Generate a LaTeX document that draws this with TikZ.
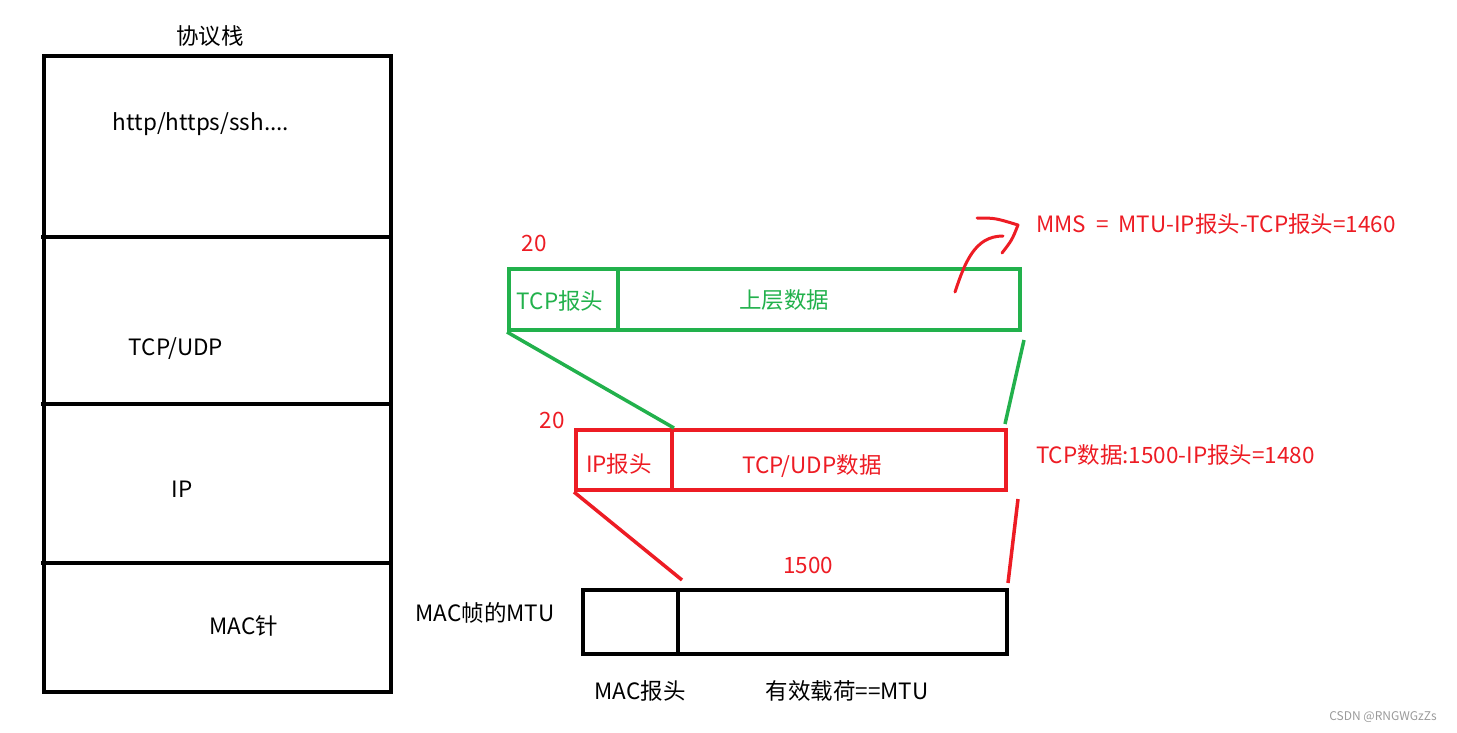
\documentclass[tikz,border=0pt]{standalone}
\usepackage{fontspec}
\setmainfont{Noto Sans CJK SC}
\usetikzlibrary{positioning}
\definecolor{pGreen}{HTML}{22B14C}
\definecolor{pRed}{HTML}{ED1C24}
\definecolor{pGray}{HTML}{9A9A9A}

\begin{document}
\begin{tikzpicture}[x=1pt, y=-1pt, line width=4pt,
    every node/.style={font=\fontsize{22.5}{26}\selectfont, inner sep=0pt},
    cell/.style={draw, minimum height=61pt, anchor=north west},
    link/.style={line width=3.5pt}]
  \useasboundingbox (0,0) rectangle (1457,732);
  % protocol stack on the left
  \node (stack) at (210,36) {协议栈};
  \draw[line width=4.5pt] (44,56) rectangle (391,692);
  \foreach \y in {237,404,563} \draw[line width=4.5pt] (41,\y) -- (393,\y);
  \node (app) at (201,124) {http/https/ssh....};
  \node (tl) at (176,349) {TCP/UDP};
  \node (nl) at (182,489) {IP};
  \node (ll) at (244,626) {MAC针};
  % TCP segment
  \node[cell, pGreen, minimum width=109pt] (tcphdr) at (507,267) {};
  \node[cell, pGreen, minimum width=402pt] (tcpdata) at (616,267) {};
  \node[pGreen] (tcphdrtxt) at (560,301) {TCP报头};
  \node[pGreen] (tcpdatatxt) at (784,300) {上层数据};
  \node[pRed] (tcplen) at (534,243) {20};
  % IP packet
  \node[cell, pRed, minimum width=96pt, minimum height=60pt] (iphdr) at (574,428) {};
  \node[cell, pRed, minimum width=334pt, minimum height=60pt] (ipdata) at (670,428) {};
  \node[pRed] (iphdrtxt) at (619,464) {IP报头};
  \node[pRed] (ipdatatxt) at (812,466) {TCP/UDP数据};
  \node[pRed] (iplen) at (552,420) {20};
  % MAC frame
  \node[cell, minimum width=95pt, minimum height=64pt] (machdr) at (581,588) {};
  \node[cell, minimum width=329pt, minimum height=64pt] (macdata) at (676,588) {};
  \node[pRed] (maclen) at (808,565) {1500};
  \node (mactxt) at (485,613) {MAC帧的MTU};
  \node (machdrtxt) at (640,691) {MAC报头};
  \node (macdatatxt) at (847,691) {有效载荷==MTU};
  % connectors
  \draw[link, pGreen] (tcphdr.south west) -- (iphdr.north east);
  \draw[link, pGreen] ([shift={(2,8)}]tcpdata.south east) -- ([shift={(-3,-4)}]ipdata.north east);
  \draw[link, pRed] (iphdr.south west) -- ([shift={(2,-8)}]machdr.north east);
  \draw[link, pRed] ([shift={(10,7)}]ipdata.south east) -- ([shift={(-1,-5)}]macdata.north east);
  % notes on the right
  \node[pRed, anchor=west] (mms) at (1034,224) {MMS \ = \ MTU-IP报头-TCP报头=1460};
  \node[pRed, anchor=west] (tcpnote) at (1034,455) {TCP数据:1500-IP报头=1480};
  \draw[pRed, line width=3pt, line cap=round] (955,292) .. controls (965,262) and (975,236) .. (1003,236);
  \draw[pRed, line width=3pt, line cap=round, line join=round] (977,218) .. controls (995,218) .. (1018,225) .. controls (1012,240) .. (1002,253);
  \node[pGray, font=\fontsize{12}{14}\selectfont] (mark) at (1383,717) {CSDN @RNGWGzZs};
\end{tikzpicture}
\end{document}
